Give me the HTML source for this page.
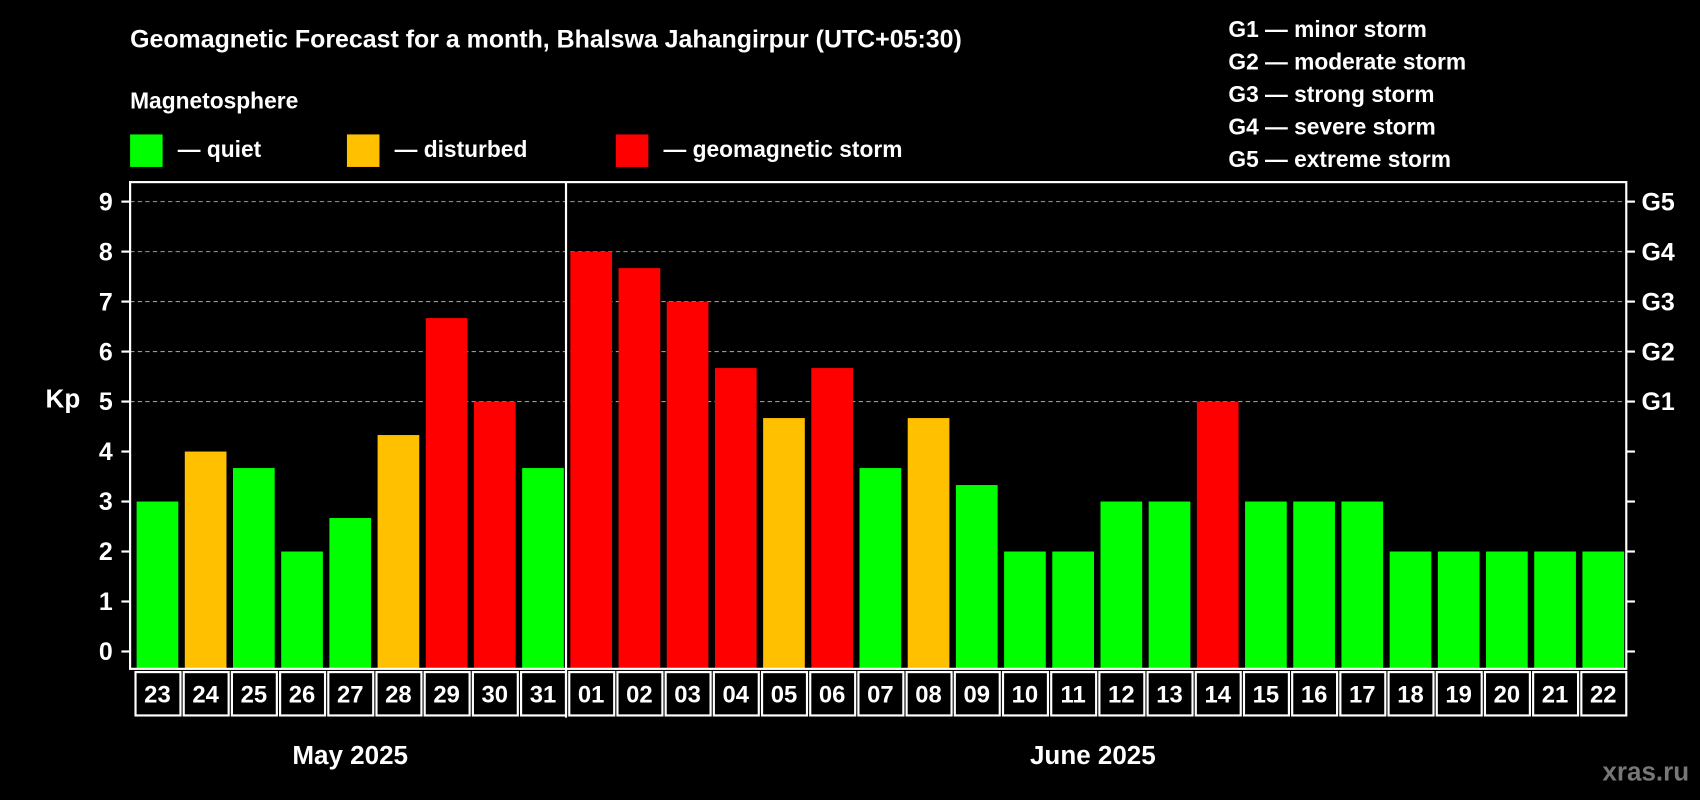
<!DOCTYPE html>
<html><head><meta charset="utf-8"><style>
html,body{margin:0;padding:0;background:#000;}
svg{display:block;font-family:"Liberation Sans",Arial,sans-serif;font-weight:bold;}
</style></head><body>
<svg id="chart" width="1700" height="800" viewBox="0 0 1568 738" preserveAspectRatio="none" xmlns="http://www.w3.org/2000/svg">
<rect x="0" y="0" width="1568" height="738" fill="#000"/>
<text x="120" y="44" fill="#fff" font-size="23">Geomagnetic Forecast for a month, Bhalswa Jahangirpur (UTC+05:30)</text>
<text x="120" y="100" fill="#fff" font-size="21">Magnetosphere</text>
<g><rect x="120" y="124" width="30" height="30" fill="#00ff00"/><text x="164" y="145" fill="#fff" font-size="21">— quiet</text></g>
<g><rect x="320" y="124" width="30" height="30" fill="#ffc000"/><text x="364" y="145" fill="#fff" font-size="21">— disturbed</text></g>
<g><rect x="568" y="124" width="30" height="30" fill="#ff0000"/><text x="612" y="145" fill="#fff" font-size="21">— geomagnetic storm</text></g>
<g fill="#fff" font-size="21">
<text x="1133" y="34">G1 — minor storm</text>
<text x="1133" y="64">G2 — moderate storm</text>
<text x="1133" y="94">G3 — strong storm</text>
<text x="1133" y="124">G4 — severe storm</text>
<text x="1133" y="154">G5 — extreme storm</text>
</g>
<text x="58" y="376" fill="#fff" font-size="24" text-anchor="middle">Kp</text>
<g id="plot"></g>
<text x="323" y="705" fill="#fff" font-size="24" text-anchor="middle">May 2025</text>
<text x="1008" y="705" fill="#fff" font-size="24" text-anchor="middle">June 2025</text>
<text x="1558" y="720" fill="#777" font-size="24" text-anchor="end">xras.ru</text>
</svg>
<script>
const days = ["23","24","25","26","27","28","29","30","31","01","02","03","04","05","06","07","08","09","10","11","12","13","14","15","16","17","18","19","20","21","22"];
const kpValues = [3,4,3.67,2,2.67,4.33,6.67,5,3.67,8,7.67,7,5.67,4.67,5.67,3.67,4.67,3.33,2,2,3,3,5,3,3,3,2,2,2,2,2];
const yTicks = [0,1,2,3,4,5,6,7,8,9];
const gLabels = [[5,"G1"],[6,"G2"],[7,"G3"],[8,"G4"],[9,"G5"]];
const NS="http://www.w3.org/2000/svg";
const plot=document.getElementById('plot');
const X0=122,X1=1500,TOP=168,BOT=617,Y0=601,Y9=186;
const step=(X1-X0)/days.length;
const y=v=>Y0-(Y0-Y9)*v/9;
const xs=i=>X0+i*step;
function mk(t,a,p){const e=document.createElementNS(NS,t);for(const k in a)e.setAttribute(k,a[k]);(p||plot).appendChild(e);return e;}
// grid
gLabels.forEach(g=>{
  const l=mk('line',{x1:X0-2,x2:X1,y1:y(g[0]),y2:y(g[0]),stroke:'#999','stroke-dasharray':'4,3','stroke-width':1});
  
  
  const t=mk('text',{x:1514,y:y(g[0])+8,fill:'#fff','font-size':23});
  t.textContent=g[1];
  
  
});
yTicks.forEach(v=>{
  const t=mk('text',{x:104,y:y(v)+8,fill:'#fff','font-size':23,'text-anchor':'end'});
  t.textContent=v;
  
  
  mk('line',{x1:112,x2:120,y1:y(v),y2:y(v),stroke:'#fff','stroke-width':2});
  mk('line',{x1:1500,x2:1508,y1:y(v),y2:y(v),stroke:'#fff','stroke-width':2});
});
// bars
kpValues.forEach((v,i)=>{
  const c=v>=5?'#ff0000':(v>=4?'#ffc000':'#00ff00');
  const b=mk('rect',{x:xs(i)+4,y:y(v),width:step-6,height:BOT-y(v),fill:c});
  
  
  const cell=mk('rect',{x:xs(i)+3,y:BOT+3,width:step-3,height:40,fill:'none',stroke:'#fff','stroke-width':2});
  
  
  const t=mk('text',{x:xs(i)+step/2+1,y:BOT+31,fill:'#fff','font-size':22,'text-anchor':'middle'});
  t.textContent=days[i];
  
  
});
// frame
const f=mk('rect',{x:X0-2,y:TOP,width:X1-X0+2,height:BOT-TOP,fill:'none',stroke:'#fff','stroke-width':2});


const sep=mk('line',{x1:xs(9),x2:xs(9),y1:TOP,y2:BOT+45,stroke:'#fff','stroke-width':2});


</script>
</body></html>
